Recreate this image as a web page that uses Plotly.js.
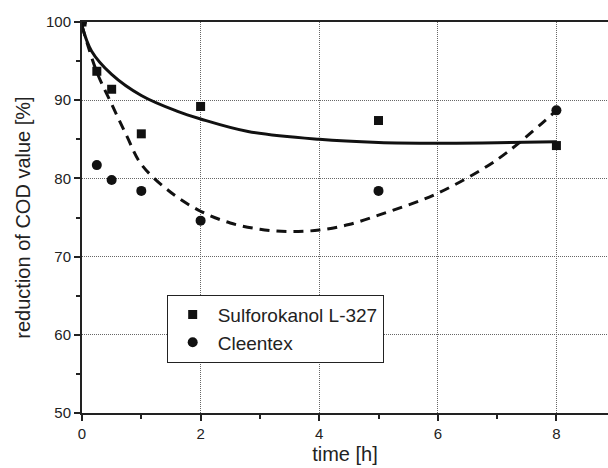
<!DOCTYPE html>
<html>
<head>
<meta charset="utf-8">
<script src="https://cdn.plot.ly/plotly-3.0.1.min.js"></script>
<style>html,body{margin:0;padding:0;background:#fff;}#chart{width:608px;height:468px;}</style>
</head>
<body>
<div id="chart"></div>
<script>
// measured points
const timeH = [0, 0.25, 0.5, 1, 2, 5, 8];
const sulforokanol = [100, 93.7, 91.4, 85.7, 89.2, 87.4, 84.2];
const cleentex = [100, 81.7, 79.8, 78.4, 74.6, 78.4, 88.7];

// fitted curves
const fitSolidX = [0, 0.16, 0.5, 1, 1.6, 2, 2.8, 4, 5, 6, 7, 8];
const fitSolidY = [99.5, 96.3, 93.3, 90.6, 88.6, 87.6, 86.0, 85.0, 84.6, 84.5, 84.55, 84.7];
const fitDashX = [0, 0.25, 0.5, 0.75, 1, 1.5, 2, 2.5, 3, 3.5, 4, 4.5, 5, 5.5, 6, 7, 8];
const fitDashY = [99.5, 93.6, 89.5, 85.5, 81.8, 78.2, 75.8, 74.3, 73.5, 73.2, 73.4, 74.1, 75.3, 76.6, 78.1, 82.4, 88.7];

const legendNames = ["Sulforokanol L-327", "Cleentex"];
const xTitle = "time [h]";
const yTitle = "reduction of COD value [%]";

const font = "Liberation Sans, Arial, sans-serif";

const traces = [
  {x: fitSolidX, y: fitSolidY, mode: "lines", line: {color: "#111", width: 3, shape: "spline"}, showlegend: false, hoverinfo: "skip"},
  {x: fitDashX, y: fitDashY, mode: "lines", line: {color: "#111", width: 3, shape: "spline", dash: "10px,7px"}, showlegend: false, hoverinfo: "skip"},
  {x: timeH, y: sulforokanol, mode: "markers", name: legendNames[0], marker: {symbol: "square", size: 9, color: "#111"}},
  {x: timeH, y: cleentex, mode: "markers", name: legendNames[1], marker: {symbol: "circle", size: 10, color: "#111"}}
];

const layout = {
  width: 608, height: 468,
  margin: {l: 82, r: 0, t: 22, b: 55, pad: 0},
  paper_bgcolor: "#fff", plot_bgcolor: "#fff",
  font: {family: font, color: "#222", size: 15},
  showlegend: true,
  legend: {
    x: 0.161, y: 0.3026, xanchor: "left", yanchor: "top",
    bgcolor: "#fff", bordercolor: "#222", borderwidth: 1,
    font: {family: font, size: 19, color: "#222"},
    itemwidth: 40,
    tracegroupgap: 0
  },
  xaxis: {
    range: [0, 8.87], autorange: false,
    tickvals: [0, 2, 4, 6, 8], ticktext: ["0", "2", "4", "6", "8"],
    ticks: "outside", ticklen: 6, tickwidth: 2, tickcolor: "#222",
    showline: true, linecolor: "#222", linewidth: 2, mirror: true,
    showgrid: true, gridcolor: "#666", gridwidth: 1, griddash: "1px,1px",
    zeroline: false,
    minor: {tickvals: [1, 3, 5, 7], ticks: "outside", ticklen: 4, tickwidth: 2, tickcolor: "#222", showgrid: false},
    tickfont: {family: font, size: 15, color: "#222"},
    title: {text: xTitle, font: {family: font, size: 20, color: "#222"}, standoff: 6}
  },
  yaxis: {
    range: [50, 100], autorange: false,
    tickvals: [50, 60, 70, 80, 90, 100],
    ticks: "outside", ticklen: 6, tickwidth: 2, tickcolor: "#222",
    showline: true, linecolor: "#222", linewidth: 2, mirror: false,
    showgrid: true, gridcolor: "#666", gridwidth: 1, griddash: "1px,1px",
    zeroline: false,
    minor: {tickvals: [55, 65, 75, 85, 95], ticks: "outside", ticklen: 4, tickwidth: 2, tickcolor: "#222", showgrid: false},
    tickfont: {family: font, size: 15, color: "#222"},
    title: {text: yTitle, font: {family: font, size: 20, color: "#222"}, standoff: 10}
  }
};

Plotly.newPlot("chart", traces, layout, {displayModeBar: false, staticPlot: true});
</script>
</body>
</html>
